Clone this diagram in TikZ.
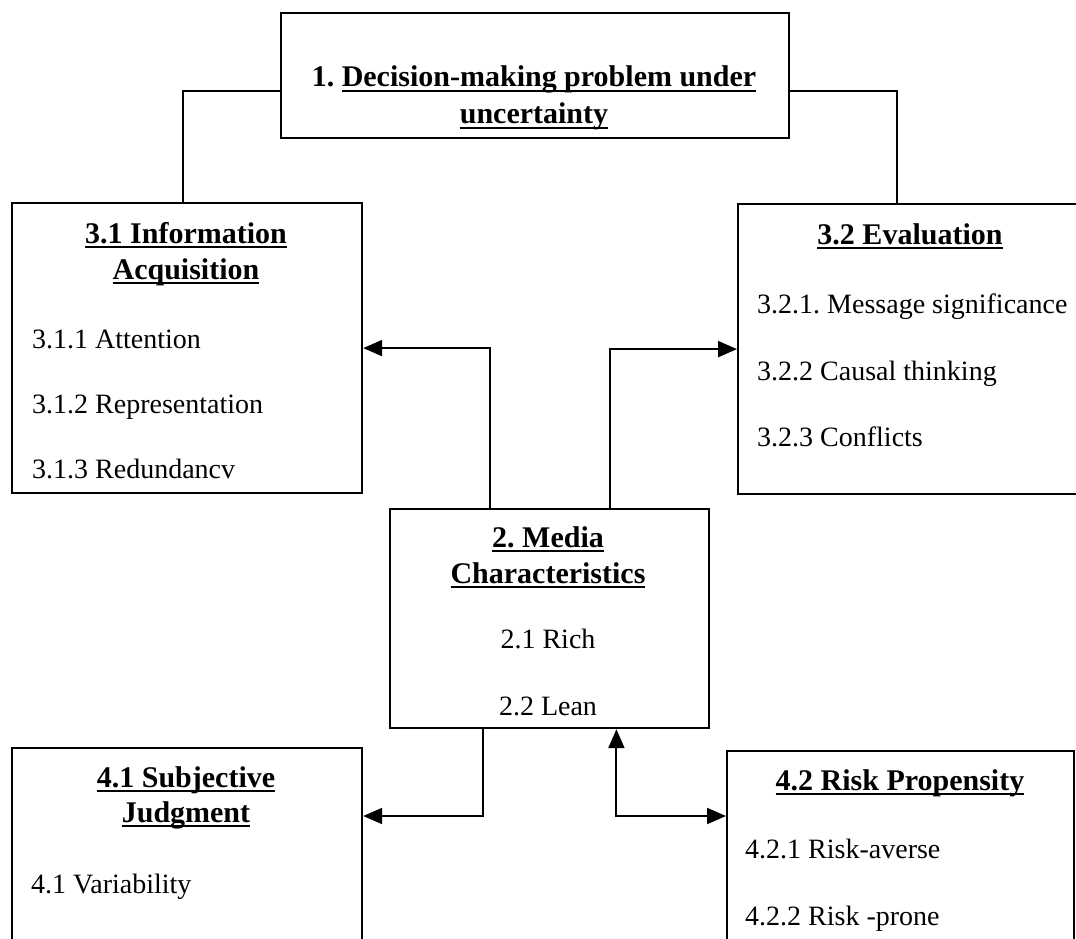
\documentclass[tikz,border=0pt]{standalone}
\usepackage{fontspec}
\setmainfont{Liberation Serif}
\usetikzlibrary{arrows.meta,calc}
\newcommand{\ulx}[1]{\sbox0{#1}\rlap{\rule[-5pt]{\wd0}{2pt}}\usebox0}
\tikzset{
  box/.style={draw, line width=2.2pt, rectangle, inner sep=0pt, anchor=north west},
  ttl/.style={anchor=base, inner sep=0pt, font=\fontsize{30}{36}\selectfont\bfseries},
  itm/.style={anchor=base west, inner sep=0pt, font=\fontsize{28}{34}\selectfont},
  itmc/.style={anchor=base, inner sep=0pt, font=\fontsize{28}{34}\selectfont},
  conn/.style={line width=2pt},
  arr/.style={conn, -{Triangle[length=19pt,width=16pt]}},
  darr/.style={conn, {Triangle[length=19pt,width=16pt]}-{Triangle[length=19pt,width=16pt]}},
}
\begin{document}
\frenchspacing
\begin{tikzpicture}[x=1pt,y=-1pt]
\useasboundingbox (0,0) rectangle (1076,939);
\clip (0,0) rectangle (1076,939);
\fill[white] (0,0) rectangle (1076,939);

% boxes
\node[box, minimum width=508pt, minimum height=125pt] (b1) at (280,12) {};
\node[box, minimum width=350pt, minimum height=290pt] (b31) at (11,202) {};
\node[box, minimum width=348pt, minimum height=290pt] (b32) at (737,203) {};
\node[box, minimum width=319pt, minimum height=219pt] (b2) at (389,508) {};
\node[box, minimum width=350pt, minimum height=220pt] (b41) at (11,747) {};
\node[box, minimum width=347pt, minimum height=220pt] (b42) at (726,750) {};

% texts
\node[ttl] (t1a) at (534,87) {1. \ulx{Decision-making problem under}};
\node[ttl] (t1b) at (534,124) {\ulx{uncertainty}};

\node[ttl] (t31a) at (186,243) {\ulx{3.1 Information}};
\node[ttl] (t31b) at (186,279) {\ulx{Acquisition}};
\node[itm] (t311) at (32,348) {3.1.1 Attention};
\node[itm] (t312) at (32,413) {3.1.2 Representation};
\node[itm] (t313) at (32,478) {3.1.3 Redundancv};

\node[ttl] (t32a) at (910,244) {\ulx{3.2 Evaluation}};
\node[itm] (t321) at (757,313) {3.2.1. Message significance};
\node[itm] (t322) at (757,380) {3.2.2 Causal thinking};
\node[itm] (t323) at (757,446) {3.2.3 Conflicts};

\node[ttl] (t2a) at (548,547) {\ulx{2. Media}};
\node[ttl] (t2b) at (548,583) {\ulx{Characteristics}};
\node[itmc] (t21) at (548,648) {2.1 Rich};
\node[itmc] (t22) at (548,715) {2.2 Lean};

\node[ttl] (t41a) at (186,787) {\ulx{4.1 Subjective}};
\node[ttl] (t41b) at (186,822) {\ulx{Judgment}};
\node[itm] (t411) at (31,893) {4.1 Variability};

\node[ttl] (t42a) at (900,790) {\ulx{4.2 Risk Propensity}};
\node[itm] (t421) at (745,858) {4.2.1 Risk-averse};
\node[itm] (t422) at (745,925) {4.2.2 Risk -prone};

% connectors
\draw[conn] ($(b1.north west)!0.624!(b1.south west)$) -| ($(b31.north west)!0.489!(b31.north east)$);
\draw[conn] ($(b1.north east)!0.624!(b1.south east)$) -| ($(b32.north west)!0.457!(b32.north east)$);
\draw[arr] ($(b2.north west)!0.313!(b2.north east)$) |- (b31.east);
\draw[arr] ($(b2.north west)!0.687!(b2.north east)$) |- (b32.west);
\coordinate (a41) at ($(b41.north east)+(0,69)$);
\coordinate (a42) at ($(b42.north west)+(0,66)$);
\draw[arr] ($(b2.south west)!0.292!(b2.south east)$) |- (a41);
\draw[darr] ($(b2.south west)!0.708!(b2.south east)$) |- (a42);
\end{tikzpicture}
\end{document}
